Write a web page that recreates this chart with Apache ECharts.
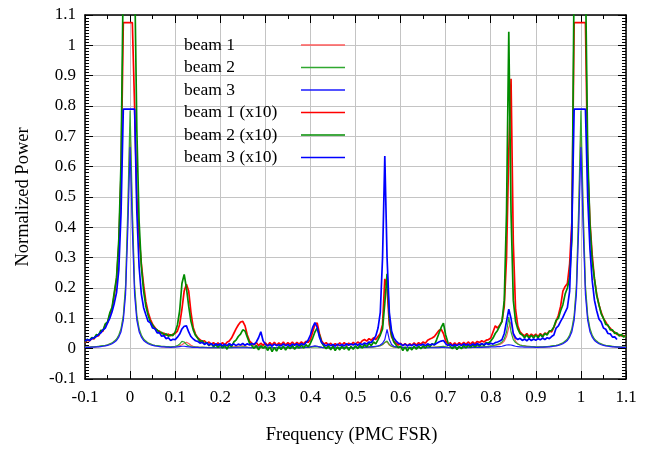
<!DOCTYPE html>
<html><head><meta charset="utf-8">
<script src="https://cdn.jsdelivr.net/npm/echarts/dist/echarts.min.js"></script>
<style>html,body{margin:0;padding:0;background:#fff}#c{width:649px;height:450px}</style>
</head><body><div id="c"></div>
<script>
// Frequency grid (PMC FSR)
const freqX = [
-0.1,-0.095,-0.09,-0.085,-0.08,-0.075,-0.07,-0.065,-0.06,-0.055,-0.05,-0.045,-0.04,-0.035,-0.03,-0.025,-0.02,-0.015,-0.01,-0.005,
0,0.005,0.01,0.015,0.02,0.025,0.03,0.035,0.04,0.045,0.05,0.055,0.06,0.065,0.07,0.075,0.08,0.085,0.09,0.095,
0.1,0.105,0.11,0.115,0.12,0.125,0.13,0.135,0.14,0.145,0.15,0.155,0.16,0.165,0.17,0.175,0.18,0.185,0.19,0.195,
0.2,0.205,0.21,0.215,0.22,0.225,0.23,0.235,0.24,0.245,0.25,0.255,0.26,0.265,0.27,0.275,0.28,0.285,0.29,0.295,
0.3,0.305,0.31,0.315,0.32,0.325,0.33,0.335,0.34,0.345,0.35,0.355,0.36,0.365,0.37,0.375,0.38,0.385,0.39,0.395,
0.4,0.405,0.41,0.415,0.42,0.425,0.43,0.435,0.44,0.445,0.45,0.455,0.46,0.465,0.47,0.475,0.48,0.485,0.49,0.495,
0.5,0.505,0.51,0.515,0.52,0.525,0.53,0.535,0.54,0.545,0.55,0.555,0.56,0.565,0.57,0.575,0.58,0.585,0.59,0.595,
0.6,0.605,0.61,0.615,0.62,0.625,0.63,0.635,0.64,0.645,0.65,0.655,0.66,0.665,0.67,0.675,0.68,0.685,0.69,0.695,
0.7,0.705,0.71,0.715,0.72,0.725,0.73,0.735,0.74,0.745,0.75,0.755,0.76,0.765,0.77,0.775,0.78,0.785,0.79,0.795,
0.8,0.805,0.81,0.815,0.82,0.825,0.83,0.835,0.84,0.845,0.85,0.855,0.86,0.865,0.87,0.875,0.88,0.885,0.89,0.895,
0.9,0.905,0.91,0.915,0.92,0.925,0.93,0.935,0.94,0.945,0.95,0.955,0.96,0.965,0.97,0.975,0.98,0.985,0.99,0.995,
1,1.005,1.01,1.015,1.02,1.025,1.03,1.035,1.04,1.045,1.05,1.055,1.06,1.065,1.07,1.075,1.08,1.085,1.09,1.095,
1.1];

const beam1 = [
0.004,0.004,0.005,0.005,0.006,0.006,0.007,0.008,0.009,0.01,0.012,0.015,0.018,0.023,0.03,0.042,0.062,0.102,0.195,0.432,
0.73,0.432,0.195,0.102,0.062,0.042,0.03,0.023,0.018,0.015,0.012,0.01,0.009,0.008,0.007,0.006,0.006,0.005,0.005,0.006,
0.007,0.008,0.01,0.013,0.018,0.021,0.017,0.011,0.008,0.006,0.005,0.004,0.004,0.004,0.003,0.004,0.003,0.004,0.003,0.004,
0.003,0.004,0.004,0.004,0.005,0.005,0.006,0.007,0.008,0.009,0.009,0.007,0.005,0.004,0.003,0.003,0.003,0.003,0.003,0.003,
0.003,0.002,0.003,0.002,0.003,0.002,0.003,0.002,0.003,0.003,0.003,0.002,0.003,0.002,0.003,0.003,0.003,0.003,0.004,0.004,
0.005,0.006,0.008,0.008,0.006,0.004,0.003,0.003,0.002,0.003,0.002,0.003,0.002,0.003,0.002,0.003,0.003,0.003,0.003,0.003,
0.004,0.004,0.004,0.004,0.005,0.005,0.005,0.006,0.006,0.007,0.008,0.01,0.013,0.021,0.022,0.012,0.007,0.005,0.004,0.004,
0.003,0.003,0.003,0.003,0.003,0.003,0.003,0.003,0.003,0.003,0.003,0.003,0.004,0.004,0.004,0.005,0.005,0.006,0.007,0.006,
0.005,0.004,0.003,0.003,0.003,0.003,0.003,0.003,0.003,0.004,0.004,0.004,0.004,0.005,0.005,0.005,0.006,0.006,0.007,0.007,
0.008,0.009,0.011,0.012,0.014,0.018,0.025,0.04,0.07,0.089,0.045,0.025,0.016,0.012,0.01,0.009,0.008,0.007,0.007,0.006,
0.005,0.005,0.005,0.005,0.006,0.006,0.007,0.008,0.009,0.01,0.012,0.015,0.018,0.023,0.03,0.042,0.062,0.102,0.195,0.432,
0.73,0.432,0.195,0.102,0.062,0.042,0.03,0.023,0.018,0.015,0.012,0.01,0.009,0.008,0.007,0.006,0.006,0.005,0.005,0.004,
0.004];

const beam2 = [
0.005,0.005,0.005,0.006,0.006,0.007,0.008,0.009,0.01,0.011,0.013,0.016,0.019,0.025,0.032,0.045,0.067,0.11,0.21,0.465,
0.785,0.465,0.21,0.11,0.067,0.045,0.032,0.025,0.019,0.016,0.013,0.011,0.01,0.009,0.008,0.008,0.007,0.007,0.006,0.007,
0.008,0.01,0.015,0.024,0.022,0.014,0.009,0.007,0.006,0.005,0.005,0.004,0.005,0.004,0.004,0.003,0.004,0.003,0.004,0.003,
0.003,0.004,0.003,0.003,0.004,0.003,0.004,0.004,0.005,0.005,0.006,0.005,0.004,0.003,0.003,0.003,0.003,0.002,0.003,0.003,
0.002,0.003,0.002,0.003,0.002,0.003,0.002,0.003,0.003,0.002,0.003,0.002,0.003,0.002,0.003,0.002,0.003,0.003,0.004,0.004,
0.005,0.006,0.007,0.006,0.005,0.004,0.003,0.003,0.002,0.003,0.002,0.003,0.002,0.003,0.002,0.003,0.003,0.002,0.003,0.003,
0.003,0.003,0.004,0.003,0.004,0.004,0.005,0.005,0.006,0.007,0.008,0.01,0.014,0.02,0.025,0.014,0.008,0.006,0.005,0.004,
0.004,0.003,0.003,0.003,0.003,0.002,0.003,0.003,0.003,0.003,0.003,0.003,0.003,0.004,0.004,0.004,0.005,0.006,0.007,0.008,
0.006,0.004,0.003,0.003,0.003,0.003,0.003,0.003,0.003,0.004,0.004,0.004,0.004,0.005,0.005,0.005,0.006,0.006,0.007,0.008,
0.009,0.01,0.012,0.014,0.017,0.022,0.032,0.055,0.104,0.055,0.03,0.02,0.015,0.012,0.01,0.009,0.008,0.008,0.007,0.007,
0.006,0.006,0.006,0.006,0.007,0.007,0.008,0.009,0.01,0.011,0.013,0.016,0.019,0.025,0.032,0.045,0.067,0.11,0.21,0.465,
0.785,0.465,0.21,0.11,0.067,0.045,0.032,0.025,0.019,0.016,0.013,0.011,0.01,0.009,0.008,0.007,0.006,0.006,0.005,0.005,
0.005];

const beam3 = [
0.004,0.004,0.004,0.005,0.005,0.006,0.006,0.007,0.008,0.009,0.011,0.013,0.016,0.021,0.027,0.038,0.056,0.093,0.178,0.393,
0.665,0.393,0.178,0.093,0.056,0.038,0.027,0.021,0.016,0.013,0.011,0.009,0.008,0.007,0.006,0.006,0.005,0.005,0.004,0.005,
0.005,0.006,0.007,0.008,0.008,0.007,0.006,0.005,0.004,0.004,0.004,0.003,0.003,0.003,0.003,0.003,0.003,0.003,0.003,0.003,
0.003,0.003,0.003,0.003,0.003,0.003,0.003,0.003,0.003,0.003,0.003,0.003,0.003,0.003,0.003,0.004,0.005,0.006,0.006,0.004,
0.003,0.003,0.003,0.003,0.003,0.003,0.003,0.003,0.003,0.003,0.003,0.003,0.003,0.003,0.003,0.003,0.003,0.004,0.004,0.005,
0.006,0.008,0.009,0.008,0.006,0.004,0.003,0.003,0.003,0.003,0.003,0.003,0.003,0.003,0.003,0.003,0.003,0.003,0.003,0.004,
0.004,0.004,0.004,0.005,0.005,0.005,0.006,0.006,0.007,0.008,0.009,0.012,0.018,0.03,0.064,0.03,0.014,0.008,0.006,0.005,
0.004,0.004,0.003,0.003,0.003,0.003,0.003,0.003,0.003,0.003,0.003,0.003,0.003,0.003,0.003,0.003,0.003,0.003,0.004,0.004,
0.003,0.003,0.003,0.003,0.003,0.003,0.003,0.003,0.003,0.003,0.003,0.003,0.004,0.004,0.004,0.004,0.004,0.005,0.005,0.005,
0.006,0.006,0.006,0.007,0.007,0.008,0.01,0.012,0.013,0.012,0.01,0.008,0.007,0.006,0.006,0.005,0.005,0.005,0.005,0.005,
0.004,0.004,0.005,0.005,0.005,0.006,0.006,0.007,0.008,0.009,0.011,0.013,0.016,0.021,0.027,0.038,0.056,0.093,0.178,0.393,
0.665,0.393,0.178,0.093,0.056,0.038,0.027,0.021,0.016,0.013,0.011,0.009,0.008,0.007,0.006,0.006,0.005,0.005,0.004,0.004,
0.004];

const beam1x10 = [
0.02,0.028,0.025,0.034,0.032,0.043,0.042,0.056,0.058,0.078,0.085,0.112,0.13,0.178,0.228,0.34,0.58,1.075,1.075,1.075,
1.075,1.075,0.8,0.5,0.37,0.28,0.21,0.155,0.12,0.097,0.08,0.07,0.06,0.058,0.05,0.051,0.044,0.048,0.042,0.048,
0.05,0.058,0.08,0.13,0.19,0.212,0.19,0.12,0.07,0.048,0.036,0.03,0.024,0.026,0.018,0.022,0.014,0.02,0.012,0.019,
0.011,0.02,0.012,0.021,0.025,0.035,0.05,0.065,0.078,0.088,0.09,0.075,0.045,0.025,0.018,0.012,0.02,0.01,0.018,0.011,
0.019,0.01,0.02,0.012,0.021,0.011,0.019,0.013,0.022,0.012,0.02,0.014,0.022,0.013,0.021,0.015,0.022,0.016,0.024,0.02,
0.03,0.055,0.08,0.085,0.05,0.025,0.015,0.02,0.011,0.018,0.009,0.017,0.01,0.019,0.012,0.02,0.011,0.018,0.013,0.021,
0.014,0.022,0.017,0.026,0.03,0.025,0.033,0.028,0.036,0.03,0.04,0.05,0.08,0.23,0.2,0.08,0.04,0.025,0.018,0.012,
0.018,0.01,0.017,0.009,0.016,0.011,0.019,0.012,0.02,0.015,0.022,0.018,0.028,0.032,0.035,0.04,0.05,0.06,0.064,0.05,
0.025,0.015,0.02,0.011,0.019,0.012,0.02,0.013,0.021,0.014,0.022,0.015,0.022,0.016,0.024,0.02,0.026,0.022,0.028,0.03,
0.035,0.055,0.075,0.068,0.078,0.09,0.14,0.3,0.65,0.89,0.35,0.13,0.075,0.055,0.048,0.042,0.05,0.04,0.048,0.041,
0.048,0.04,0.05,0.042,0.052,0.048,0.058,0.055,0.07,0.09,0.11,0.14,0.19,0.205,0.215,0.28,0.42,1.075,1.075,1.075,
1.075,1.075,1.075,0.6,0.42,0.31,0.23,0.18,0.145,0.12,0.1,0.088,0.075,0.068,0.058,0.055,0.047,0.046,0.042,0.043,
0.04];

const beam2x10 = [
0.022,0.031,0.027,0.037,0.034,0.046,0.045,0.06,0.061,0.082,0.088,0.118,0.136,0.186,0.235,0.36,0.62,1.25,1.25,1.25,
1.25,1.25,1.25,0.72,0.42,0.27,0.19,0.14,0.11,0.088,0.078,0.066,0.062,0.053,0.054,0.045,0.049,0.041,0.046,0.043,
0.055,0.078,0.125,0.215,0.245,0.2,0.14,0.09,0.062,0.044,0.034,0.024,0.026,0.016,0.02,0.01,0.017,0.006,0.014,0.004,
0.013,0.002,0.012,-0.002,0.015,0.006,0.022,0.028,0.04,0.048,0.062,0.058,0.038,0.018,0.01,0.001,0.011,-0.004,0.01,0.002,
0.009,-0.006,0.006,-0.01,0.004,-0.008,0.007,-0.003,0.009,-0.005,0.008,0,0.011,-0.002,0.01,0.003,0.012,0.002,0.013,0.006,
0.018,0.035,0.055,0.068,0.045,0.02,0.008,0,0.01,-0.004,0.008,-0.006,0.006,-0.004,0.009,-0.002,0.008,-0.005,0.007,-0.002,
0.01,0,0.012,0.002,0.014,0.006,0.018,0.01,0.022,0.016,0.03,0.045,0.065,0.15,0.247,0.1,0.045,0.022,0.012,0.003,
0.008,-0.006,0.006,-0.008,0.005,-0.004,0.008,-0.002,0.009,0,0.01,0.002,0.012,0.006,0.016,0.012,0.03,0.05,0.07,0.084,
0.045,0.02,0.008,0,0.01,-0.003,0.008,0,0.011,0.002,0.012,0.004,0.013,0.005,0.014,0.008,0.016,0.01,0.02,0.018,
0.025,0.035,0.05,0.06,0.075,0.09,0.16,0.45,1.045,0.45,0.16,0.09,0.065,0.05,0.045,0.036,0.046,0.034,0.044,0.035,
0.045,0.036,0.047,0.038,0.05,0.045,0.058,0.06,0.072,0.094,0.1,0.125,0.145,0.18,0.2,0.235,0.36,1.25,1.25,1.25,
1.25,1.25,1.25,0.65,0.41,0.29,0.23,0.175,0.145,0.115,0.1,0.08,0.078,0.062,0.062,0.05,0.052,0.042,0.047,0.038,
0.044];

const beam3x10 = [
0.025,0.03,0.027,0.033,0.036,0.04,0.046,0.052,0.062,0.068,0.085,0.1,0.122,0.15,0.185,0.26,0.45,0.79,0.79,0.79,
0.79,0.79,0.79,0.45,0.27,0.18,0.135,0.112,0.09,0.085,0.068,0.066,0.052,0.053,0.041,0.043,0.033,0.036,0.027,0.031,
0.03,0.038,0.048,0.065,0.074,0.075,0.055,0.04,0.032,0.026,0.024,0.018,0.021,0.014,0.019,0.012,0.017,0.01,0.016,0.011,
0.016,0.009,0.015,0.01,0.017,0.011,0.016,0.01,0.015,0.012,0.017,0.011,0.016,0.012,0.017,0.014,0.022,0.036,0.056,0.026,
0.015,0.009,0.014,0.008,0.015,0.01,0.013,0.009,0.016,0.01,0.014,0.008,0.015,0.011,0.016,0.01,0.017,0.012,0.02,0.028,
0.045,0.07,0.086,0.07,0.038,0.02,0.014,0.009,0.015,0.01,0.014,0.008,0.015,0.01,0.014,0.009,0.016,0.011,0.015,0.012,
0.016,0.011,0.017,0.013,0.019,0.015,0.022,0.02,0.03,0.042,0.068,0.12,0.3,0.635,0.3,0.12,0.058,0.035,0.025,0.018,
0.016,0.01,0.015,0.009,0.014,0.01,0.015,0.009,0.014,0.011,0.015,0.01,0.016,0.012,0.015,0.013,0.018,0.022,0.025,0.027,
0.017,0.01,0.015,0.009,0.014,0.01,0.015,0.01,0.016,0.011,0.015,0.01,0.016,0.011,0.017,0.012,0.017,0.013,0.018,0.014,
0.018,0.015,0.02,0.022,0.025,0.03,0.05,0.09,0.13,0.1,0.05,0.036,0.03,0.034,0.027,0.032,0.026,0.033,0.027,0.032,
0.028,0.033,0.029,0.035,0.03,0.036,0.033,0.04,0.045,0.068,0.075,0.09,0.103,0.12,0.135,0.19,0.4,0.79,0.79,0.79,
0.79,0.79,0.79,0.5,0.33,0.225,0.16,0.125,0.098,0.088,0.068,0.064,0.05,0.049,0.038,0.039,0.03,null,null,null,
null];

const seriesNames = ['beam 1','beam 2','beam 3','beam 1 (x10)','beam 2 (x10)','beam 3 (x10)'];
const seriesValues = [beam1, beam2, beam3, beam1x10, beam2x10, beam3x10];
const seriesColors = ['#ff5a5a','#30a830','#1a1aff','#ff0000','#008c00','#0000ff'];

const FONT = 'Liberation Serif';
const pairs = ys => freqX.map((x, i) => [x, ys[i]]).filter(p => p[1] !== null && p[1] !== undefined);

const axisCommon = {
  type: 'value', min: -0.1, max: 1.1, interval: 0.1,
  axisLine: { show: true, onZero: false, lineStyle: { color: '#000', width: 1.5 } },
  axisTick: { show: true, inside: true, length: 8, lineStyle: { color: '#000', width: 1 } },
};

const chart = echarts.init(document.getElementById('c'), null, { renderer: 'canvas' });
chart.setOption({
  animation: false,
  backgroundColor: '#fff',
  grid: { left: 85, right: 23, top: 15, bottom: 68, containLabel: false },
  legend: {
    data: seriesNames,
    orient: 'vertical', left: 179, top: 31, align: 'right',
    icon: 'rect', itemWidth: 44, itemHeight: 1.5, itemGap: 4.5,
    formatter: n => '{t|' + n + '}',
    textStyle: { color: '#000', fontFamily: FONT, fontSize: 17.5,
      rich: { t: { width: 112, align: 'left', lineHeight: 14, fontFamily: FONT, fontSize: 17.5, color: '#000' } } }
  },
  xAxis: [
    Object.assign({}, axisCommon, {
      position: 'bottom',
      minorTick: { show: true, splitNumber: 2, length: 4, lineStyle: { color: '#000' } },
      splitLine: { show: true, lineStyle: { color: '#c4c4c4', width: 1 } },
      axisLabel: { margin: 10, color: '#000', fontFamily: FONT, fontSize: 17 },
      name: 'Frequency (PMC FSR)', nameLocation: 'middle', nameGap: 47,
      nameTextStyle: { color: '#000', fontFamily: FONT, fontSize: 18.5, padding: [0, 8, 0, 0] }
    }),
    Object.assign({}, axisCommon, {
      position: 'top',
      minorTick: { show: true, splitNumber: 2, length: 4, lineStyle: { color: '#000' } },
      splitLine: { show: false }, axisLabel: { show: false }
    })
  ],
  yAxis: [
    Object.assign({}, axisCommon, {
      position: 'left',
      minorTick: { show: true, splitNumber: 10, length: 4, lineStyle: { color: '#000' } },
      splitLine: { show: true, lineStyle: { color: '#c4c4c4', width: 1 } },
      axisLabel: { margin: 9, color: '#000', fontFamily: FONT, fontSize: 17 },
      name: 'Normalized Power', nameLocation: 'middle', nameGap: 52,
      nameTextStyle: { color: '#000', fontFamily: FONT, fontSize: 18.5 }
    }),
    Object.assign({}, axisCommon, {
      position: 'right',
      minorTick: { show: true, splitNumber: 10, length: 4, lineStyle: { color: '#000' } },
      splitLine: { show: false }, axisLabel: { show: false }
    })
  ],
  series: seriesNames.map((name, i) => ({
    name, type: 'line', xAxisIndex: 0, yAxisIndex: 0,
    data: pairs(seriesValues[i]),
    symbol: 'none', showSymbol: false, clip: true,
    color: seriesColors[i],
    lineStyle: { color: seriesColors[i], width: i < 3 ? 1.2 : 1.7 },
    z: 2 + i
  }))
});
</script>
</body></html>
